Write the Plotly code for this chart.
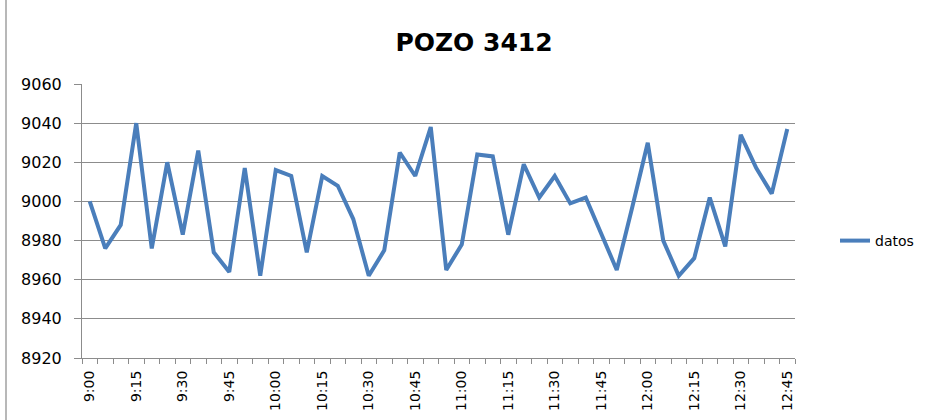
import plotly.graph_objects as go

times = ["9:00", "9:05", "9:10", "9:15", "9:20", "9:25", "9:30", "9:35", "9:40", "9:45",
         "9:50", "9:55", "10:00", "10:05", "10:10", "10:15", "10:20", "10:25", "10:30", "10:35",
         "10:40", "10:45", "10:50", "10:55", "11:00", "11:05", "11:10", "11:15", "11:20", "11:25",
         "11:30", "11:35", "11:40", "11:45", "11:50", "11:55", "12:00", "12:05", "12:10", "12:15",
         "12:20", "12:25", "12:30", "12:35", "12:40", "12:45"]
datos = [9000, 8976, 8988, 9040, 8976, 9020, 8983, 9026, 8974, 8964,
         9017, 8962, 9016, 9013, 8974, 9013, 9008, 8991, 8962, 8975,
         9025, 9013, 9038, 8965, 8978, 9024, 9023, 8983, 9019, 9002,
         9013, 8999, 9002, 8984, 8965, 8997, 9030, 8980, 8962, 8971,
         9002, 8977, 9034, 9017, 9004, 9037]
label_times = ["9:00", "9:15", "9:30", "9:45", "10:00", "10:15", "10:30", "10:45",
               "11:00", "11:15", "11:30", "11:45", "12:00", "12:15", "12:30", "12:45"]

xs = list(range(len(times)))
tickvals = [times.index(t) for t in label_times]

FONT = "DejaVu Sans, sans-serif"
GRID = "#8c8c8c"

fig = go.Figure()
fig.add_trace(go.Scatter(x=xs, y=datos, mode="lines", name="datos",
                         line=dict(color="#4a7ebb", width=4)))

fig.update_layout(
    width=929, height=420,
    margin=dict(l=82, r=134, t=84, b=62, autoexpand=False),
    paper_bgcolor="white", plot_bgcolor="white",
    title=dict(text="<b>POZO 3412</b>", x=474 / 929, xanchor="center",
               y=1 - 42 / 420, yanchor="middle",
               font=dict(family=FONT, size=25, color="black")),
    showlegend=True,
    legend=dict(x=(835 - 82) / 713, xanchor="left", y=(358 - 241) / 274, yanchor="middle",
                font=dict(family=FONT, size=14, color="black"), bgcolor="rgba(0,0,0,0)"),
    font=dict(family=FONT, color="black"),
)
fig.update_xaxes(
    range=[-0.5, len(times) - 0.5], tickmode="array", tickvals=tickvals, ticktext=label_times,
    tickangle=-90, ticks="", showgrid=False, zeroline=False, automargin=False,
    showline=True, linecolor=GRID, linewidth=1, ticklabelstandoff=6,
    tickfont=dict(family=FONT, size=14, color="black"),
    minor=dict(tickmode="array", tickvals=[i - 0.5 for i in range(len(times) + 1)],
               ticks="outside", ticklen=5, tickcolor=GRID, tickwidth=1, showgrid=False),
)
fig.update_yaxes(
    range=[8920, 9060], dtick=20, tick0=8920, showgrid=True, gridcolor=GRID, gridwidth=1,
    zeroline=False, showline=True, linecolor=GRID, linewidth=1, automargin=False,
    ticks="outside", ticklen=7, tickcolor=GRID, ticklabelstandoff=9,
    tickfont=dict(family=FONT, size=16, color="black"),
)
fig.add_shape(type="line", xref="paper", yref="paper",
              x0=(6 - 82) / 713, x1=(6 - 82) / 713, y0=(358 - 420) / 274, y1=(358 - 0) / 274,
              line=dict(color="#a0a0a0", width=1.5))

fig.write_html("out.html", config={"displayModeBar": False},
               post_script="document.body.style.margin='0';")
